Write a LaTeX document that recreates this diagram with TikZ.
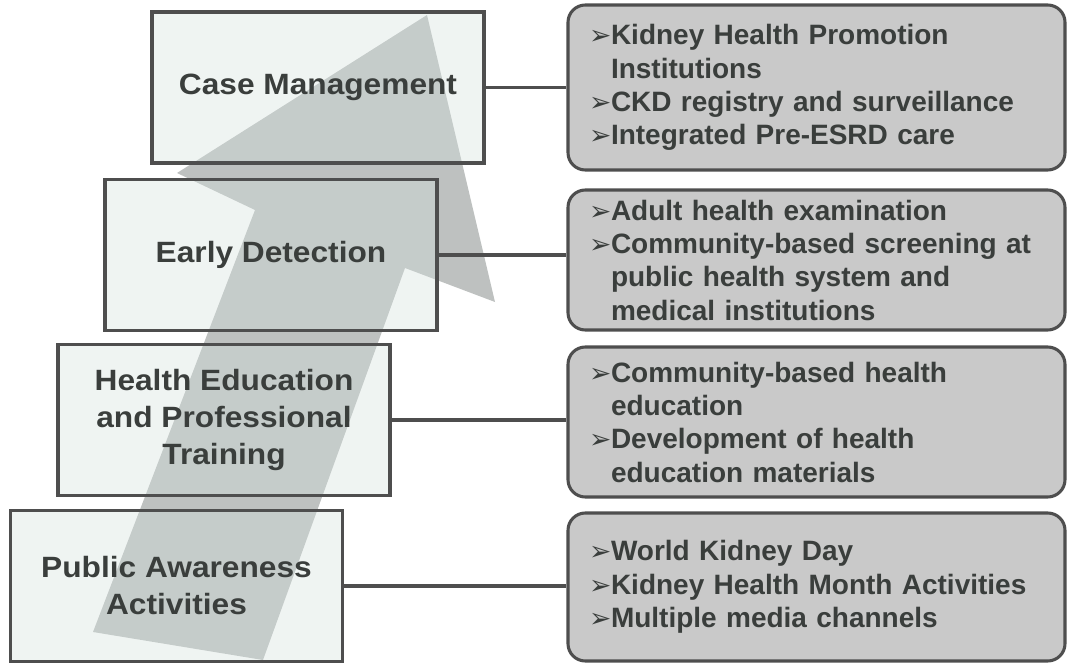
\documentclass[tikz,border=0pt]{standalone}
\usepackage{fontspec}
\setmainfont{Liberation Sans}
\newfontfamily\stagefont[FakeStretch=1.08]{Liberation Sans}
\newfontfamily\bulfont{DejaVu Sans}
\definecolor{arrow_grey}{RGB}{190,193,192}
\definecolor{box_tint}{RGB}{212,224,220}
\definecolor{panel_grey}{RGB}{201,201,201}
\definecolor{edge_grey}{RGB}{78,78,78}
\definecolor{ink_grey}{RGB}{58,62,60}
\newcommand{\bul}{\makebox[16.5pt][l]{\bulfont\fontsize{20}{20}\selectfont ➢}}
\newcommand{\ind}{\hspace*{16.5pt}}

\begin{document}
\begin{tikzpicture}[x=0.75pt,y=-0.75pt,
    stage/.style={draw=edge_grey,line width=2.3pt,fill=box_tint,fill opacity=0.36,text opacity=1,
      minimum width=249pt,minimum height=113.25pt,inner sep=0pt,align=center,text=ink_grey,
      font=\stagefont\bfseries\fontsize{22}{27.75}\selectfont},
    panel/.style={draw=edge_grey,line width=2.3pt,fill=panel_grey,rounded corners=13pt,
      text width=341.25pt,inner xsep=15.75pt,inner ysep=0pt,align=left,text=ink_grey,
      font=\bfseries\fontsize{21}{25}\selectfont},
    link/.style={draw=edge_grey,line width=2.4pt}]
    \useasboundingbox (0,0) rectangle (1067,663);
    \fill[arrow_grey] (93,632) -- (255,210) -- (177,173) -- (427,15) -- (495,302) -- (405,268) -- (263,660) -- cycle;
    \node[stage] (cm) at (318,87.5) {Case Management};
    \node[stage] (ed) at (271,255) {Early Detection};
    \node[stage] (he) at (224,420) {Health Education\\and Professional\\Training};
    \node[stage] (pa) at (176.5,586) {Public Awareness\\Activities};
    \node[panel,minimum height=123.75pt] (r1) at (816.5,87.5) {\bul Kidney Health Promotion\\\ind Institutions\\\bul CKD registry and surveillance\\\bul Integrated Pre-ESRD care};
    \node[panel,minimum height=105pt] (r2) at (816.5,260) {\bul Adult health examination\\\bul Community-based screening at\\\ind public health system and\\\ind medical institutions};
    \node[panel,minimum height=112.5pt] (r3) at (816.5,422) {\bul Community-based health\\\ind education\\\bul Development of health\\\ind education materials};
    \node[panel,minimum height=111pt] (r4) at (816.5,587) {\bul World Kidney Day\\\bul Kidney Health Month Activities\\\bul Multiple media channels};
    \draw[link] (cm.east) -- (cm.east -| r1.west);
    \draw[link] (ed.east) -- (ed.east -| r2.west);
    \draw[link] (he.east) -- (he.east -| r3.west);
    \draw[link] (pa.east) -- (pa.east -| r4.west);
\end{tikzpicture}
\end{document}
